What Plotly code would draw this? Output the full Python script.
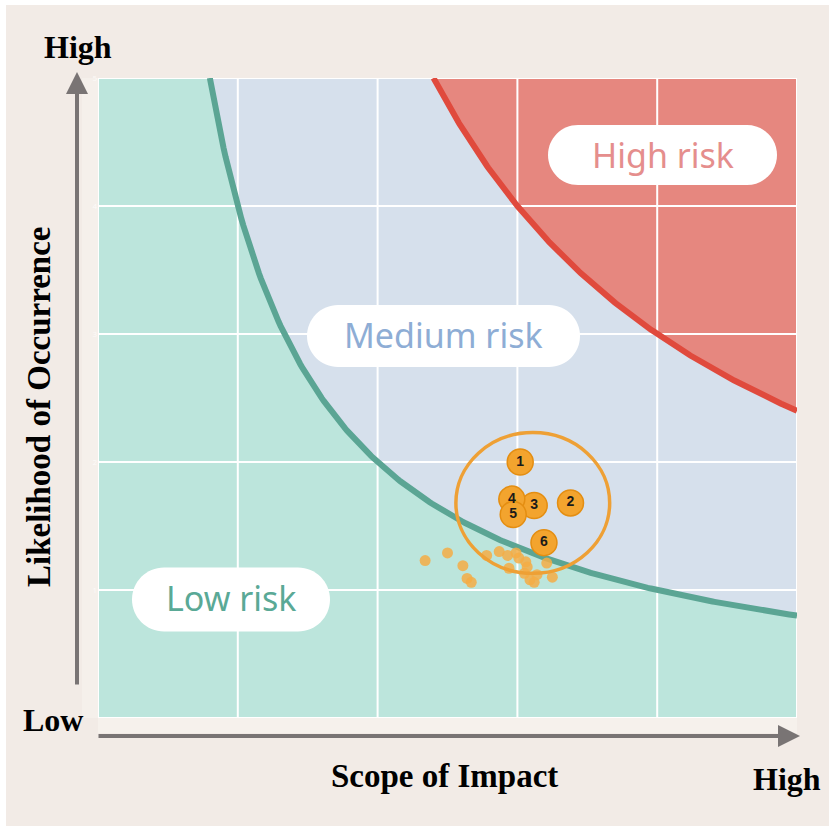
import numpy as np
import plotly.graph_objects as go

# ---- data -------------------------------------------------------------
# risk boundaries: likelihood = k / impact
low_medium_k = 4.0
medium_high_k = 12.0
axis_max = 5.0

# numbered key risks (impact, likelihood)
key_labels = ["1", "2", "3", "4", "5", "6"]
key_x = [3.02, 3.38, 3.12, 2.96, 2.97, 3.19]
key_y = [2.00, 1.68, 1.66, 1.71, 1.59, 1.37]

# other identified risks
minor_x = [2.34, 2.50, 2.61, 2.64, 2.67, 2.78, 2.87, 2.93, 2.99, 3.01,
           3.06, 3.07, 3.05, 3.09, 3.12, 3.21, 3.25, 2.94, 3.14]
minor_y = [1.23, 1.29, 1.19, 1.09, 1.06, 1.27, 1.30, 1.27, 1.29, 1.25,
           1.22, 1.18, 1.13, 1.08, 1.06, 1.21, 1.10, 1.17, 1.12]

# focus circle around the key risks
focus_x = [2.56, 3.66]
focus_y = [1.13, 2.23]

tick_vals = [1, 2, 3, 4, 5]
tick_text = ["1", "2", "3", "4", "5"]

# ---- layout geometry ---------------------------------------------------
W, H = 829, 826
ML, MR, MT, MB = 98, 32, 78, 108
PW, PH = W - ML - MR, H - MT - MB
PX_X = PW / axis_max   # pixels per data unit
PX_Y = PH / axis_max

BG = "#f2ebe6"
RED_ZONE = "#e6877f"
BLUE_ZONE = "#d6e0ec"
GREEN_ZONE = "#bce5dc"
GREEN_LINE = "#5ba594"
RED_LINE = "#e04a3d"
ORANGE = "#f3a42e"
ORANGE_EDGE = "#e48e12"
SERIF = "Liberation Serif, Times New Roman, serif"
SANS = "Noto Sans, Open Sans, sans-serif"


def px_to_paper_x(px):
    return (px - ML) / PW


def px_to_paper_y(py):
    return (H - MB - py) / PH


def pill_path(cx, cy, w, h):
    """Rounded (pill) rectangle in data coords from pixel centre/size."""
    x0 = (cx - w / 2 - ML) / PX_X
    x1 = (cx + w / 2 - ML) / PX_X
    y0 = (H - MB - (cy + h / 2)) / PX_Y
    y1 = (H - MB - (cy - h / 2)) / PX_Y
    r = h / 2
    rx, ry = r / PX_X, r / PX_Y
    k = 0.5523
    return (
        f"M {x0 + rx},{y0} L {x1 - rx},{y0} "
        f"C {x1 - rx + k * rx},{y0} {x1},{y0 + ry - k * ry} {x1},{y0 + ry} "
        f"L {x1},{y1 - ry} "
        f"C {x1},{y1 - ry + k * ry} {x1 - rx + k * rx},{y1} {x1 - rx},{y1} "
        f"L {x0 + rx},{y1} "
        f"C {x0 + rx - k * rx},{y1} {x0},{y1 - ry + k * ry} {x0},{y1 - ry} "
        f"L {x0},{y0 + ry} "
        f"C {x0},{y0 + ry - k * ry} {x0 + rx - k * rx},{y0} {x0 + rx},{y0} Z"
    )


fig = go.Figure()

# ---- zone fills ---------------------------------------------------------
xs = np.linspace(0, axis_max, 600)
safe = np.maximum(xs, 1e-9)
fig.add_trace(go.Scatter(
    x=[0, axis_max], y=[axis_max, axis_max], mode="lines",
    line=dict(width=0, color=RED_ZONE), fill="tozeroy", fillcolor=RED_ZONE,
    hoverinfo="skip", showlegend=False))
fig.add_trace(go.Scatter(
    x=xs, y=np.minimum(axis_max, medium_high_k / safe), mode="lines",
    line=dict(width=0, color=BLUE_ZONE), fill="tozeroy", fillcolor=BLUE_ZONE,
    hoverinfo="skip", showlegend=False))
fig.add_trace(go.Scatter(
    x=xs, y=np.minimum(axis_max, low_medium_k / safe), mode="lines",
    line=dict(width=0, color=GREEN_ZONE), fill="tozeroy", fillcolor=GREEN_ZONE,
    hoverinfo="skip", showlegend=False))

# ---- white grid --------------------------------------------------------
gx, gy = [], []
for v in [0] + tick_vals:
    gx += [v, v, None]
    gy += [0, axis_max, None]
    gx += [0, axis_max, None]
    gy += [v, v, None]
fig.add_trace(go.Scatter(x=gx, y=gy, mode="lines",
                         line=dict(color="white", width=2),
                         hoverinfo="skip", showlegend=False))

# ---- boundary curves ----------------------------------------------------
xg = np.linspace(low_medium_k / axis_max, axis_max, 300)
fig.add_trace(go.Scatter(x=xg, y=low_medium_k / xg, mode="lines",
                         line=dict(color=GREEN_LINE, width=6),
                         hoverinfo="skip", showlegend=False))
xr = np.linspace(medium_high_k / axis_max, axis_max, 300)
fig.add_trace(go.Scatter(x=xr, y=medium_high_k / xr, mode="lines",
                         line=dict(color=RED_LINE, width=6),
                         hoverinfo="skip", showlegend=False))

# ---- risk points --------------------------------------------------------
fig.add_trace(go.Scatter(x=minor_x, y=minor_y, mode="markers",
                         marker=dict(size=11, color="#f5ad45", opacity=0.85),
                         hoverinfo="skip", showlegend=False))
fig.add_trace(go.Scatter(
    x=key_x, y=key_y, mode="markers+text",
    text=[f"<b>{t}</b>" for t in key_labels],
    textposition="middle center",
    textfont=dict(family="Arial, Liberation Sans, sans-serif", size=14,
                  color="#1a1a1a"),
    marker=dict(size=26, color=ORANGE, line=dict(color=ORANGE_EDGE, width=1.5)),
    hoverinfo="skip", showlegend=False))

# ---- shapes -------------------------------------------------------------
shapes = [
    # page background with thin white edge at top/left
    dict(type="rect", xref="paper", yref="paper", layer="below",
         x0=px_to_paper_x(6), x1=px_to_paper_x(W + 2),
         y0=px_to_paper_y(H + 2), y1=px_to_paper_y(5),
         fillcolor=BG, line=dict(width=0)),
    # pale strips beside the plot area
    dict(type="rect", xref="paper", yref="paper", layer="below",
         x0=px_to_paper_x(ML), x1=px_to_paper_x(W - MR),
         y0=px_to_paper_y(733), y1=px_to_paper_y(H - MB),
         fillcolor="#f6f1ec", line=dict(width=0)),
    dict(type="rect", xref="paper", yref="paper", layer="below",
         x0=px_to_paper_x(82), x1=px_to_paper_x(ML),
         y0=px_to_paper_y(H - MB), y1=px_to_paper_y(MT),
         fillcolor="#f5f0eb", line=dict(width=0)),
    # focus circle
    dict(type="circle", xref="x", yref="y",
         x0=focus_x[0], x1=focus_x[1], y0=focus_y[0], y1=focus_y[1],
         line=dict(color="#eea035", width=3.5)),
    # zone label pills
    dict(type="path", xref="x", yref="y", path=pill_path(662.5, 155, 229, 60),
         fillcolor="white", line=dict(width=0)),
    dict(type="path", xref="x", yref="y", path=pill_path(443.5, 336, 273, 62),
         fillcolor="white", line=dict(width=0)),
    dict(type="path", xref="x", yref="y", path=pill_path(231, 599.5, 198, 64),
         fillcolor="white", line=dict(width=0)),
]

# ---- annotations --------------------------------------------------------
def paper_text(text, px, py, size, color="black", family=SERIF, angle=0,
               bold=True):
    t = f"<b>{text}</b>" if bold else text
    return dict(text=t, x=px_to_paper_x(px), y=px_to_paper_y(py),
                xref="paper", yref="paper", showarrow=False,
                xanchor="center", yanchor="middle", textangle=angle,
                font=dict(family=family, size=size, color=color))


annotations = [
    paper_text("High", 78, 47, 32),
    paper_text("Low", 53, 720, 32),
    paper_text("High", 787, 779, 32),
    paper_text("Scope of Impact", 444, 776, 33),
    paper_text("Likelihood of Occurrence", 39, 407, 33, angle=-90),
    paper_text("High risk", 662.5, 155, 34, color="#e58e8d", family=SANS,
               bold=False),
    paper_text("Medium risk", 443.5, 335, 34, color="#8eadd5", family=SANS,
               bold=False),
    paper_text("Low risk", 231, 598, 34, color="#5aa996", family=SANS,
               bold=False),
    # axis arrows
    dict(x=px_to_paper_x(77), y=px_to_paper_y(72), xref="paper", yref="paper",
         ax=0, ay=686 - 72, axref="pixel", ayref="pixel", text="",
         showarrow=True, arrowhead=2, arrowsize=1.1, arrowwidth=4,
         arrowcolor="#797474"),
    dict(x=px_to_paper_x(800), y=px_to_paper_y(736), xref="paper",
         yref="paper", ax=97 - 800, ay=0, axref="pixel", ayref="pixel",
         text="", showarrow=True, arrowhead=2, arrowsize=1.1, arrowwidth=4,
         arrowcolor="#797474"),
]

fig.update_layout(
    width=W, height=H, autosize=False,
    margin=dict(l=ML, r=MR, t=MT, b=MB, pad=0),
    paper_bgcolor="white", plot_bgcolor=RED_ZONE,
    shapes=shapes, annotations=annotations, showlegend=False,
    xaxis=dict(range=[0, axis_max], showgrid=False, zeroline=False,
               showticklabels=False, ticks="", fixedrange=True),
    yaxis=dict(range=[0, axis_max], showgrid=False, zeroline=False,
               tickvals=tick_vals, ticktext=tick_text, ticks="",
               tickfont=dict(size=8, color="rgba(255,255,255,0.7)"),
               fixedrange=True),
)

fig.write_html("out.html", config={"displayModeBar": False})
